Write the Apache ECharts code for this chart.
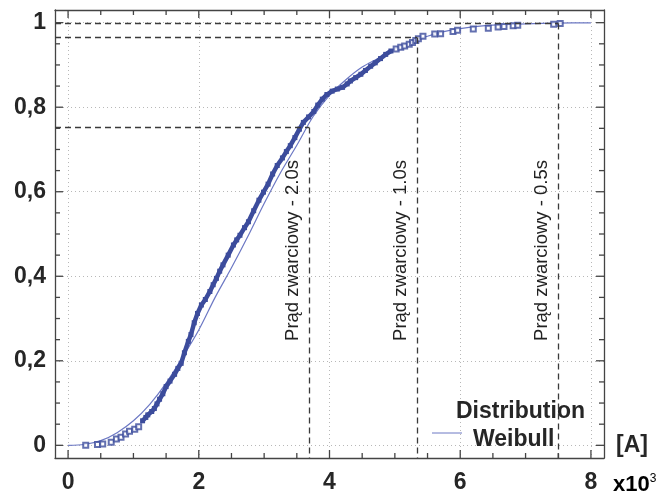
<!DOCTYPE html>
<html><head><meta charset="utf-8">
<script src="https://cdn.jsdelivr.net/npm/echarts@6/dist/echarts.min.js"></script>
<style>html,body{margin:0;padding:0;background:#fff}#c{width:657px;height:494px}</style>
</head><body><div id="c"></div>
<script>
// ---- data ----
const xMajor = [0, 2, 4, 6, 8];
const xMinor = [0.5, 1, 1.5, 2.5, 3, 3.5, 4.5, 5, 5.5, 6.5, 7, 7.5];
const yMajor = [0, 0.2, 0.4, 0.6, 0.8, 1];
const yMinor = [0.05, 0.1, 0.15, 0.25, 0.3, 0.35, 0.45, 0.5, 0.55, 0.65, 0.7, 0.75, 0.85, 0.9, 0.95];

// empirical distribution (x10^3 A, probability) – sparse low tail
const ecdfLowX = [0.27, 0.45, 0.53, 0.66, 0.74, 0.81, 0.88, 0.94, 1.02, 1.08];
const ecdfLowY = [0.000, 0.002, 0.003, 0.007, 0.015, 0.019, 0.027, 0.033, 0.038, 0.044];
// empirical distribution – dense middle part
const ecdfBandX = [1.14, 1.19, 1.22, 1.28, 1.32, 1.36, 1.40, 1.45, 1.50, 1.56, 1.63, 1.68, 1.73, 1.78, 1.84, 1.88, 1.93, 1.98, 2.04, 2.10, 2.17, 2.22, 2.27, 2.32, 2.37, 2.45, 2.53, 2.58, 2.63, 2.70, 2.76, 2.84, 2.92, 2.99, 3.06, 3.13, 3.20, 3.28, 3.34, 3.40, 3.47, 3.54, 3.60, 3.68, 3.76, 3.82, 3.89, 3.96, 4.04, 4.12, 4.20, 4.27, 4.32, 4.40, 4.48, 4.55, 4.63, 4.70, 4.78, 4.86, 4.94];
const ecdfBandY = [0.058, 0.066, 0.072, 0.080, 0.087, 0.098, 0.109, 0.122, 0.139, 0.152, 0.168, 0.182, 0.194, 0.219, 0.246, 0.262, 0.290, 0.312, 0.332, 0.345, 0.364, 0.380, 0.395, 0.412, 0.427, 0.450, 0.474, 0.486, 0.497, 0.515, 0.529, 0.555, 0.580, 0.599, 0.618, 0.642, 0.662, 0.680, 0.695, 0.709, 0.728, 0.748, 0.764, 0.777, 0.790, 0.805, 0.819, 0.830, 0.838, 0.843, 0.847, 0.855, 0.862, 0.870, 0.878, 0.887, 0.897, 0.905, 0.915, 0.925, 0.933];
// empirical distribution – sparse upper tail
const ecdfTopX = [5.02, 5.09, 5.15, 5.22, 5.27, 5.32, 5.36, 5.43, 5.61, 5.70, 5.89, 5.96, 6.20, 6.43, 6.58, 6.67, 6.81, 6.88, 7.43, 7.53];
const ecdfTopY = [0.938, 0.942, 0.945, 0.949, 0.953, 0.958, 0.962, 0.968, 0.973, 0.974, 0.979, 0.982, 0.985, 0.987, 0.990, 0.991, 0.993, 0.994, 0.996, 0.998];

// fitted Weibull CDF
const weibullX = [0, 0.25, 0.5, 0.75, 1, 1.25, 1.5, 1.75, 2, 2.25, 2.5, 2.75, 3, 3.25, 3.5, 3.75, 4, 4.25, 4.5, 4.75, 5, 5.25, 5.5, 5.75, 6, 6.5, 7, 7.5, 8];
const weibullY = [0, 0.002, 0.011, 0.030, 0.058, 0.097, 0.147, 0.208, 0.273, 0.350, 0.420, 0.494, 0.572, 0.645, 0.710, 0.778, 0.828, 0.865, 0.895, 0.916, 0.938, 0.955, 0.968, 0.979, 0.986, 0.994, 0.997, 0.999, 0.9995];

// reference (dashed) lines
const refX = [3.69, 5.34, 7.5];
const refY = [0.752, 0.965, 0.998];
const refLabels = ['Prąd zwarciowy - 2.0s', 'Prąd zwarciowy - 1.0s', 'Prąd zwarciowy - 0.5s'];

const legendNames = ['Distribution', 'Weibull'];
const xUnit = '[A]';

// ---- chart ----
const X_MIN = -0.2, X_MAX = 8.2, Y_MIN = -0.03, Y_MAX = 1.03;
const FONT = '"Liberation Sans", Arial, Helvetica, sans-serif';
const AXC = '#444';
const BLUE = '#3c4c9c';
const WEIB = '#6c78c4';
const TXT = '#262626';
const MAJOR_LEN = 8, MINOR_LEN = 5;

function fmt(v) { return String(v).replace('.', ','); }

function mkAxis(type, pos, vals, labels) {
  return {
    type: 'value', position: pos, min: type === 'x' ? X_MIN : Y_MIN, max: type === 'x' ? X_MAX : Y_MAX,
    axisLine: { show: true, onZero: false, lineStyle: { color: AXC, width: 1.3 } },
    axisTick: { show: false },
    axisLabel: {
      show: labels, customValues: vals, formatter: fmt, fontSize: 23, fontWeight: 'bold', color: TXT, fontFamily: FONT,
      margin: type === 'x' ? 13 : 9, padding: type === 'x' ? 0 : [8, 0, 0, 0]
    },
    splitLine: { show: labels, lineStyle: { color: '#b8b8b8', width: 1, type: [1, 3] } },
    minorTick: { show: false }, minorSplitLine: { show: false }
  };
}

const chart = echarts.init(document.getElementById('c'));

const refMarks = [];
refX.forEach((x, i) => {
  refMarks.push([{ coord: [X_MIN, refY[i]] }, { coord: [x, refY[i]] }]);
  refMarks.push([{ coord: [x, refY[i]] }, { coord: [x, Y_MIN] }]);
});

const option = {
  animation: false,
  backgroundColor: '#fff',
  grid: { left: 55, top: 10, right: 53, bottom: 33, containLabel: false },
  xAxis: [mkAxis('x', 'bottom', xMajor, true), mkAxis('x', 'top', xMajor, false)],
  yAxis: [mkAxis('y', 'left', yMajor, true), mkAxis('y', 'right', yMajor, false)],
  series: [
    {
      name: legendNames[1], type: 'line', xAxisIndex: 0, yAxisIndex: 0, z: 3,
      data: weibullX.map((x, i) => [x, weibullY[i]]),
      smooth: 0.3, showSymbol: false, lineStyle: { color: WEIB, width: 1.2 }
    },
    {
      name: legendNames[0], type: 'line', xAxisIndex: 0, yAxisIndex: 0, z: 4,
      data: ecdfBandX.map((x, i) => [x, ecdfBandY[i]]),
      symbol: 'rect', symbolSize: 5, showAllSymbol: true,
      lineStyle: { color: BLUE, width: 4.5 }, itemStyle: { color: BLUE }
    },
    {
      name: legendNames[0] + ' tails', type: 'scatter', xAxisIndex: 0, yAxisIndex: 0, z: 4,
      data: ecdfLowX.map((x, i) => [x, ecdfLowY[i]]).concat(ecdfTopX.map((x, i) => [x, ecdfTopY[i]])),
      symbol: 'emptyRect', symbolSize: 5, itemStyle: { color: BLUE, borderWidth: 1.1 }
    },
    {
      name: 'ref', type: 'line', xAxisIndex: 0, yAxisIndex: 0, z: 6, data: [],
      markLine: {
        silent: true, symbol: ['none', 'none'], label: { show: false },
        lineStyle: { color: '#3a3a3a', type: [6, 4], width: 1.3 },
        data: refMarks
      }
    }
  ]
};
chart.setOption(option);

function px(x, y) { return chart.convertToPixel({ xAxisIndex: 0, yAxisIndex: 0 }, [x, y]); }

const g = [];
// tick marks on all four sides, placed through the axis scales
function xTick(v, len) {
  const b = px(v, Y_MIN), t = px(v, Y_MAX);
  g.push({ type: 'line', z: 20, silent: true, shape: { x1: b[0], y1: b[1], x2: b[0], y2: b[1] - len }, style: { stroke: AXC, lineWidth: 1.3 } });
  g.push({ type: 'line', z: 20, silent: true, shape: { x1: t[0], y1: t[1], x2: t[0], y2: t[1] + len }, style: { stroke: AXC, lineWidth: 1.3 } });
}
function yTick(v, len) {
  const l = px(X_MIN, v), r = px(X_MAX, v);
  g.push({ type: 'line', z: 20, silent: true, shape: { x1: l[0], y1: l[1], x2: l[0] + len, y2: l[1] }, style: { stroke: AXC, lineWidth: 1.3 } });
  g.push({ type: 'line', z: 20, silent: true, shape: { x1: r[0], y1: r[1], x2: r[0] - len, y2: r[1] }, style: { stroke: AXC, lineWidth: 1.3 } });
}
xMajor.forEach(v => xTick(v, MAJOR_LEN));
xMinor.forEach(v => xTick(v, MINOR_LEN));
yMajor.forEach(v => yTick(v, MAJOR_LEN));
yMinor.forEach(v => yTick(v, MINOR_LEN));

refX.forEach((x, i) => {
  const p = px(x, 0.247);
  g.push({
    type: 'text', x: p[0] - 16, y: p[1], rotation: Math.PI / 2, z: 5,
    style: { text: refLabels[i], font: '18.5px ' + FONT, fill: '#222', align: 'left', verticalAlign: 'middle' }
  });
});
// legend
g.push({ type: 'text', x: 585, y: 412, z: 2, style: { text: legendNames[0], font: 'bold 23px ' + FONT, fill: TXT, align: 'right', verticalAlign: 'middle' } });
g.push({ type: 'line', z: 2, shape: { x1: 432, y1: 433, x2: 462, y2: 433 }, style: { stroke: WEIB, lineWidth: 1 } });
g.push({ type: 'text', x: 473, y: 440, z: 2, style: { text: legendNames[1], font: 'bold 23px ' + FONT, fill: TXT, align: 'left', verticalAlign: 'middle' } });
// axis unit labels
g.push({ type: 'text', x: 632, y: 446, style: { text: xUnit, font: 'bold 23px ' + FONT, fill: TXT, align: 'center', verticalAlign: 'middle' } });
g.push({ type: 'text', x: 613, y: 485, style: {
  text: '{a|x10}{b|3}', align: 'left', verticalAlign: 'middle',
  rich: { a: { font: 'bold 22px ' + FONT, color: TXT }, b: { font: '12px ' + FONT, color: TXT, verticalAlign: 'top', padding: [0, 0, 12, 0] } }
} });
chart.setOption({ graphic: g });
</script>
</body></html>
